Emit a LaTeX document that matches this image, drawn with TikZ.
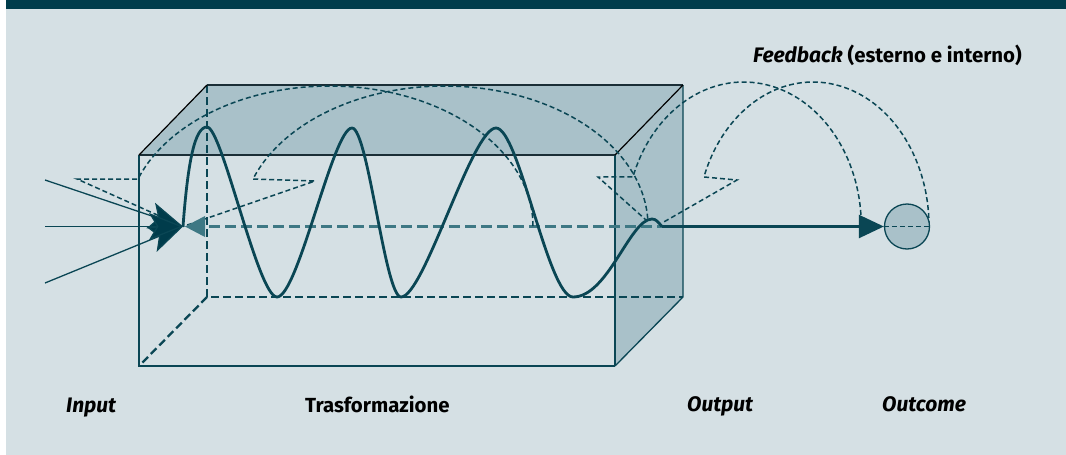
\documentclass[tikz,border=0pt]{standalone}
\usepackage{fontspec}
\setmainfont{Fira Sans}
\usetikzlibrary{arrows.meta}
\definecolor{bg}{HTML}{D5E0E4}
\definecolor{band}{HTML}{003C4B}
\definecolor{face}{HTML}{A9C1C9}
\definecolor{teal}{HTML}{0A4654}
\definecolor{axisc}{HTML}{3E7884}
\definecolor{edgec}{HTML}{1A2E36}
\tikzset{
  hidden/.style={draw=teal, line width=2.3pt, dash pattern=on 8pt off 4pt},
  thinedge/.style={draw=teal, line width=1.3pt},
  topedge/.style={draw=edgec, line width=2.4pt},
  diagedge/.style={draw=black, line width=1.2pt},
  axisdash/.style={draw=axisc, line width=3.4pt, dash pattern=on 11pt off 5pt},
  fb/.style={draw=teal, line width=1.5pt, dash pattern=on 5pt off 3pt},
  wave/.style={draw=teal, line width=2.8pt},
  inline/.style={draw=teal, line width=1.3pt, -{Stealth[length=34pt,width=27pt,inset=8pt,fill=band]}},
  label/.style={inner sep=0pt, font=\fontsize{20.4}{23}\selectfont\bfseries},
  ilabel/.style={inner sep=0pt, font=\fontsize{21}{24}\selectfont\bfseries\itshape},
}
\begin{document}
\begin{tikzpicture}[x=1pt,y=-1pt]
\useasboundingbox (0,0) rectangle (1066,455);
\fill[white] (0,0) rectangle (1066,455);
\fill[bg] (6,0) rectangle (1066,455);
\fill[band] (6,0) rectangle (1066,9);
% box corners
\coordinate (FTL) at (139,155);
\coordinate (FTR) at (615,155);
\coordinate (FBL) at (139,366);
\coordinate (FBR) at (615,366);
\coordinate (BTL) at (207,85);
\coordinate (BTR) at (683,85);
\coordinate (BBL) at (207,297);
\coordinate (BBR) at (683,297);
% faces
\fill[face] (FTL)--(BTL)--(BTR)--(FTR)--cycle;
\fill[face] (FTR)--(BTR)--(BBR)--(FBR)--cycle;
% hidden edges
\draw[hidden] (BTL)--(BBL)--(BBR);
\draw[hidden] (BBL)--(FBL);
% visible edges
\draw[thinedge] (FTL)--(FBL)--(FBR);
\draw[thinedge] (BTR)--(BBR)--(FBR);
\draw[teal, line width=2pt] (FTR)--(FBR);
\draw[topedge] (FTL)--(FTR);
\draw[draw=edgec, line width=1.8pt] (BTL)--(BTR);
\draw[diagedge] (FTL)--(BTL);
\draw[diagedge] (FTR)--(BTR);
% axis
\coordinate (in) at (183,226.5);
\coordinate (axs) at (209,226.5);
\coordinate (out) at (662,226.5);
\draw[axisdash] (axs)--(out);
% feedback loops
\draw[fb] plot[domain=0:160.4, samples=90] ({329.6+203.4*cos(\x)},{226-140*sin(\x)}) -- (77,179) -- (in);
\draw[fb] plot[domain=3:160.4, samples=90] ({444.6+203.4*cos(\x)},{226-140*sin(\x)}) -- (315,181) -- (in);
\draw[fb] plot[domain=4.4:160.1, samples=70] ({743.6+117.7*cos(\x)},{226-144*sin(\x)}) -- (598,177) -- (646,220);
\draw[fb] plot[domain=0:160.1, samples=70] ({813+116*cos(\x)},{226-144*sin(\x)}) -- (737,180) -- (662,223);
% wave
\draw[wave] (in) .. controls (188,160) and (195,127) .. (207,127)
  .. controls (222,127) and (258,297) .. (277,297)
  .. controls (298,297) and (333,128) .. (352,128)
  .. controls (368,128) and (385,297) .. (401,297)
  .. controls (424,297) and (472,128) .. (496,128)
  .. controls (519,128) and (548,297) .. (573,297)
  .. controls (608,297) and (630,219) .. (652,219)
  .. controls (656,219) and (658,222) .. (out);
% light triangle
\fill[axisc] (185,226.5)--(205,216)--(205,237)--cycle;
% output
\node[circle, draw=teal, fill=face, line width=1.3pt, minimum size=45pt, inner sep=0pt] (oc) at (907,226.5) {};
\draw[teal, line width=2.4pt, -{Triangle[length=25pt,width=23pt]}] (out) -- (oc.west);
\draw[fb] (oc.west) -- (oc.east);
% inputs
\coordinate (i1) at (45,180);
\coordinate (i2) at (45,226.5);
\coordinate (i3) at (45,283);
\draw[inline] (i1) -- (in);
\draw[inline] (i3) -- (in);
\draw[inline] (i2) -- (in);
% labels
\node[ilabel, anchor=base west] (linput) at (66,412) {Input};
\node[label, anchor=base west] (ltr) at (305,412) {Trasformazione};
\node[ilabel, anchor=base west] (lout) at (687,411) {Output};
\node[ilabel, anchor=base west] (loc) at (882,411) {Outcome};
\node[label, anchor=base west] (lfb) at (753,62) {{\fontsize{21}{24}\selectfont\itshape Feedback} (esterno e interno)};
\end{tikzpicture}
\end{document}
